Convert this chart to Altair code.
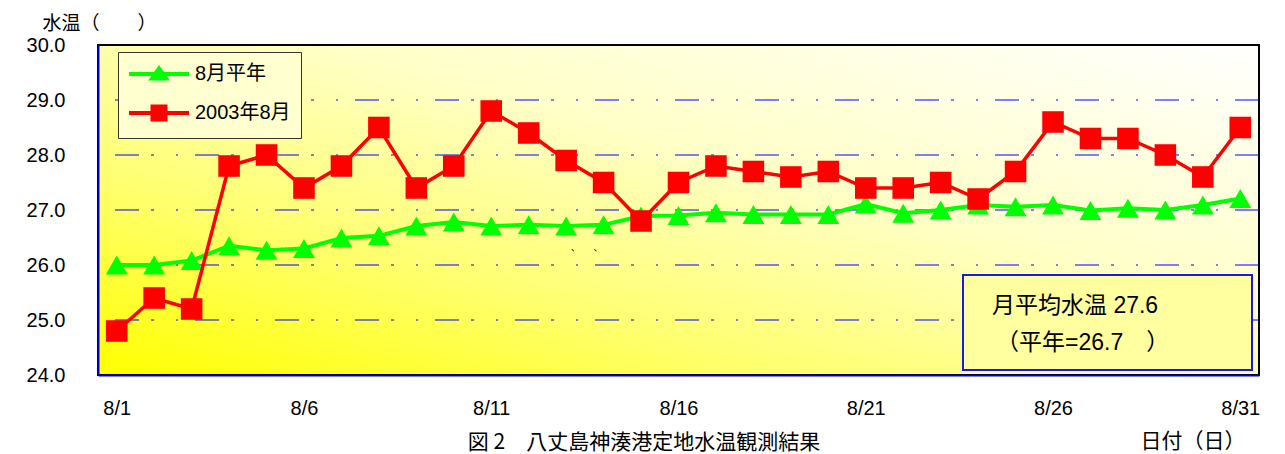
import altair as alt
import pandas as pd

# ---------------- data ----------------
days = [f"8/{d}" for d in range(1, 32)]
normal = [26.0, 26.0, 26.08, 26.35, 26.27, 26.3, 26.49, 26.53, 26.71, 26.78, 26.71,
          26.73, 26.71, 26.73, 26.89, 26.9, 26.95, 26.92, 26.92, 26.92, 27.11,
          26.94, 27.0, 27.09, 27.06, 27.09, 26.99, 27.03, 27.0, 27.09, 27.21]
obs2003 = [24.8, 25.4, 25.2, 27.8, 28.0, 27.4, 27.8, 28.5, 27.4, 27.8, 28.8,
           28.4, 27.9, 27.5, 26.8, 27.5, 27.8, 27.7, 27.6, 27.7, 27.4,
           27.4, 27.5, 27.2, 27.7, 28.6, 28.3, 28.3, 28.0, 27.6, 28.5]
series_names = ["8月平年", "2003年8月"]
series_colors = ["#00FF00", "#FF0000"]
x_tick_labels = ["8/1", "8/6", "8/11", "8/16", "8/21", "8/26", "8/31"]
y_ticks = [24, 25, 26, 27, 28, 29, 30]
grid_values = [25, 26, 27, 28, 29]
y_title = "水温（　　）"
x_title = "日付（日）"
note_lines = ["月平均水温 27.6", "（平年=26.7　）"]
caption = "図 2　八丈島神湊港定地水温観測結果"
stray = "、　　、"

df = pd.DataFrame({
    "day": days * 2,
    "value": normal + obs2003,
    "series": [series_names[0]] * len(days) + [series_names[1]] * len(days),
})
grid_df = pd.DataFrame({"value": grid_values})

W, H = 1161, 330
LAT = "Liberation Sans, Noto Sans CJK JP"
JP = "Noto Sans CJK JP"

X = alt.X("day:N", sort=days,
          scale=alt.Scale(type="point", domain=days, padding=0.5),
          axis=alt.Axis(values=x_tick_labels, labelAngle=0, ticks=False, grid=False,
                        labelPadding=23, labelFont=LAT, labelFontSize=20, labelColor="black",
                        domainColor="#0000CC", domainWidth=2, zindex=1,
                        title=x_title, titleFont=JP, titleFontSize=21, titleFontWeight="normal",
                        titleColor="black", titleX=1147, titleY=66, titleAlign="right",
                        titleBaseline="middle", titleAnchor="end"))
Y = alt.Y("value:Q",
          scale=alt.Scale(domain=[24, 30], nice=False, zero=False),
          axis=alt.Axis(values=y_ticks, format=".1f", ticks=False, grid=False,
                        labelPadding=33, labelFont=LAT, labelFontSize=20, labelColor="black",
                        domainColor="#0000CC", domainWidth=2, zindex=1,
                        title=y_title, titleFont=JP, titleFontSize=19, titleFontWeight="normal",
                        titleColor="black", titleAngle=0, titleX=-56, titleY=-22,
                        titleAlign="left", titleBaseline="middle"))

gradient = {
    "gradient": "linear", "x1": 0, "y1": 1, "x2": 1, "y2": 0,
    "stops": [
        {"offset": 0.0, "color": "#FFFF00"},
        {"offset": 0.3, "color": "#FFFF70"},
        {"offset": 0.6, "color": "#FFFFC8"},
        {"offset": 1.0, "color": "#FFFFFF"},
    ],
}

one = pd.DataFrame({"k": [0]})
bg = alt.Chart(one).mark_rect(fill=gradient).encode(
    x=alt.value(1), x2=alt.value(W - 1), y=alt.value(1), y2=alt.value(H - 1))

grid = alt.Chart(grid_df).mark_rule(color="#0000FF", strokeWidth=1,
                                    strokeDash=[24, 17, 2, 22, 3, 12]).encode(y=Y)

base = alt.Chart(df)
g_line = base.transform_filter(alt.datum.series == series_names[0]).mark_line(
    color=series_colors[0], strokeWidth=4).encode(x=X, y=Y)
g_pts = base.transform_filter(alt.datum.series == series_names[0]).mark_point(
    shape="triangle-up", filled=True, opacity=1, size=480, color=series_colors[0]).encode(x=X, y=Y)
r_line = base.transform_filter(alt.datum.series == series_names[1]).mark_line(
    color=series_colors[1], strokeWidth=3.5).encode(x=X, y=Y)
r_pts = base.transform_filter(alt.datum.series == series_names[1]).mark_point(
    shape="square", filled=True, opacity=1, size=465, color=series_colors[1]).encode(x=X, y=Y)

tri_leg = "M-3,0H3M0,-0.55L0.7,0.45H-0.7Z"
sq_leg = "M-3,0H3M-0.65,-0.65H0.65V0.65H-0.65Z"
leg = alt.Legend(title=None, orient="none", legendX=20, legendY=7, direction="vertical",
                 fillColor="#FFFFD0", strokeColor="#333333", padding=10,
                 symbolSize=400, symbolStrokeWidth=4, symbolOffset=19, symbolOpacity=1,
                 labelOffset=24, rowPadding=11, labelFont=LAT, labelFontSize=20,
                 labelColor="black", labelLimit=0)
carrier = base.mark_point(filled=True, opacity=0, size=1).encode(
    x=X, y=Y,
    fill=alt.Fill("series:N", scale=alt.Scale(domain=series_names, range=series_colors), legend=leg),
    stroke=alt.Stroke("series:N", scale=alt.Scale(domain=series_names, range=series_colors), legend=leg),
    shape=alt.Shape("series:N", scale=alt.Scale(domain=series_names, range=[tri_leg, sq_leg]), legend=leg),
)

box = alt.Chart(one).mark_rect(fill="#FFFFA0", stroke="#1A1AE6", strokeWidth=2).encode(
    x=alt.value(865), x2=alt.value(1154), y=alt.value(230), y2=alt.value(325))
note1 = alt.Chart(one).mark_text(text=note_lines[0], font=LAT, fontSize=23, align="left",
                                 baseline="middle", color="black").encode(
    x=alt.value(894), y=alt.value(261))
note2 = alt.Chart(one).mark_text(text=note_lines[1], font=LAT, fontSize=23, align="left",
                                 baseline="middle", color="black").encode(
    x=alt.value(898), y=alt.value(298))
cap = alt.Chart(one).mark_text(text=caption, font=JP, fontSize=21, align="center",
                               baseline="alphabetic", color="black").encode(
    x=alt.value(546), y=alt.value(404))
stray_txt = alt.Chart(one).mark_text(text=stray, font=JP, fontSize=9, align="left",
                                     baseline="alphabetic", color="black").encode(
    x=alt.value(473), y=alt.value(206))

chart = alt.layer(bg, grid, g_line, g_pts, r_line, r_pts, carrier, box, note1, note2,
                  cap, stray_txt).properties(
    width=W, height=H,
    autosize=alt.AutoSizeParams(type="none"),
    padding={"left": 90, "top": 37, "right": 16, "bottom": 79},
).configure_view(stroke="black", strokeWidth=2, fill="white")

chart.save("out.html", embed_options={"renderer": "svg", "actions": False})
